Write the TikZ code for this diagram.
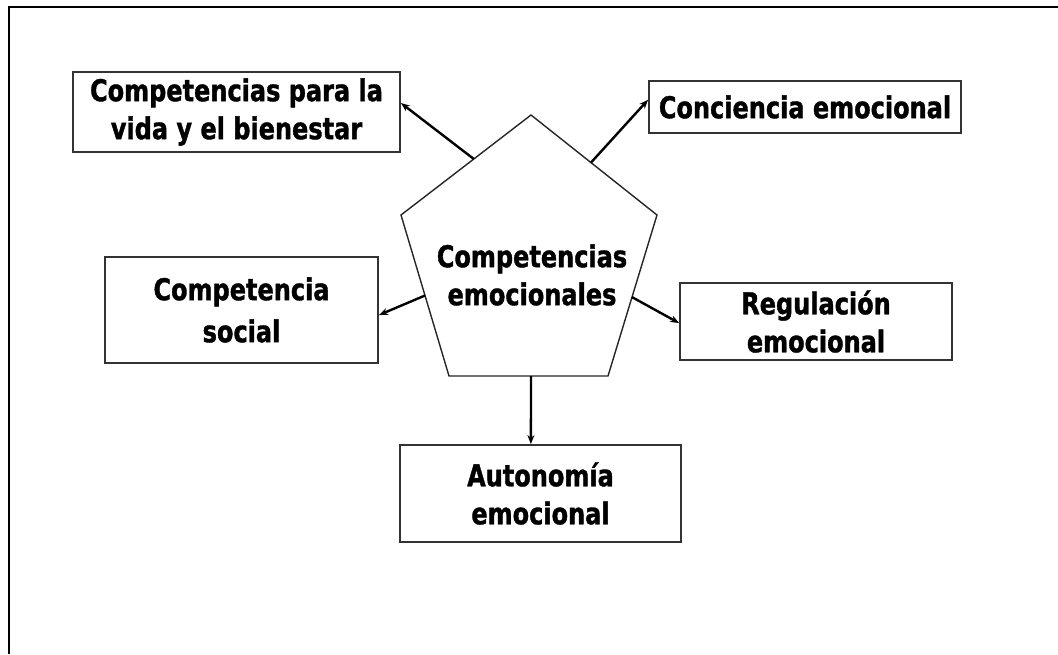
\documentclass[tikz,border=0pt]{standalone}
\usepackage{fontspec}
\newfontfamily\tah{DejaVu Sans}[FakeStretch=0.8,FakeBold=1.2]
\usetikzlibrary{calc,arrows.meta}
\begin{document}
\begin{tikzpicture}[x=1pt,y=-1pt,
  box/.style={draw=black!80, line width=1.8pt, inner sep=0pt, align=center,
    font=\tah\bfseries\fontsize{30}{40}\selectfont},
  conn/.style={line width=2.4pt, -{Stealth[length=9pt,width=7pt]}},
  pent/.style={draw=black!85, line width=1.4pt}]
\useasboundingbox (0,0) rectangle (1058,654);
\fill[white] (0,0) rectangle (1058,654);
% frame (top and left)
\draw[line width=2.4pt] (9.2,654) -- (9.2,7) -- (1058,7);
% pentagon
\coordinate (ptop) at (531,115);
\coordinate (pur) at (657,215);
\coordinate (plr) at (608,376);
\coordinate (pll) at (449,376);
\coordinate (pul) at (401,215);
\draw[pent] (ptop) -- (pur) -- (plr) -- (pll) -- (pul) -- cycle;
\node[font=\tah\bfseries\fontsize{30}{40}\selectfont, align=center, inner sep=0pt] (pc) at (532,275) {Competencias\\[-2pt]emocionales};
% boxes
\node[box, minimum width=327pt, minimum height=80pt] (A) at (236.5,112) {Competencias para la\\[-2pt]vida y el bienestar};
\node[box, minimum width=312pt, minimum height=52pt] (B) at (805,107) {Conciencia emocional};
\node[box, minimum width=273pt, minimum height=106pt] (C) at (241.5,310) {Competencia\\[2pt]social};
\node[box, minimum width=272pt, minimum height=77pt] (D) at (816,321.5) {Regulación\\[-2pt]emocional};
\node[box, minimum width=281pt, minimum height=97pt] (E) at (540.5,493.5) {Autonomía\\[-2pt]emocional};
% connector start points on pentagon edges
\coordinate (s1) at ($(pul)!0.56!(ptop)$);
\coordinate (s2) at ($(ptop)!0.476!(pur)$);
\coordinate (s3) at ($(pul)!0.5!(pll)$);
\coordinate (s4) at ($(pur)!0.51!(plr)$);
\coordinate (s5) at ($(pll)!0.516!(plr)$);
% connectors
\draw[conn] (s1) -- ($(A.north east)!0.39!(A.south east)$);
\draw[conn] (s2) -- ($(B.north west)!0.365!(B.south west)$);
\draw[conn] (s3) -- ($(C.north east)!0.547!(C.south east)$);
\draw[conn] (s4) -- ($(D.north west)!0.52!(D.south west)$);
\draw[conn] (s5) -- ($(E.north west)!0.466!(E.north east)$);
\end{tikzpicture}
\end{document}
